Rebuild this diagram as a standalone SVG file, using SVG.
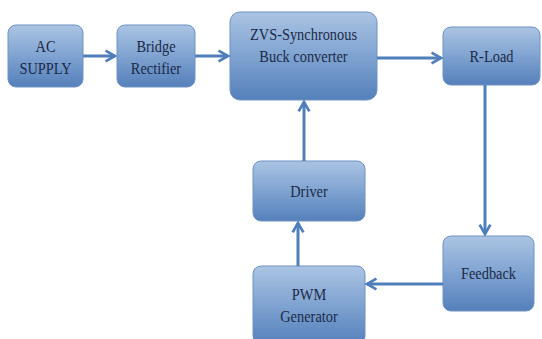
<svg xmlns="http://www.w3.org/2000/svg" width="542" height="339" viewBox="0 0 542 339">
<defs>
<linearGradient id="g" x1="0" y1="0" x2="0" y2="1">
<stop offset="0" stop-color="#abc4e3"/>
<stop offset="0.5" stop-color="#7fa3d1"/>
<stop offset="1" stop-color="#5580bb"/>
</linearGradient>
<marker id="ah" viewBox="0 0 10 10" refX="8" refY="5" markerWidth="4.5" markerHeight="4.5" orient="auto" markerUnits="strokeWidth">
<path d="M1,1 L8,5 L1,9" fill="none" stroke="#4f7fba" stroke-width="2"/>
</marker>
</defs>
<style>
.box{fill:url(#g);stroke:#6f93c4;stroke-width:1}
.t{font-family:"Liberation Serif","DejaVu Serif",serif;font-size:16px;fill:#1c2a48;text-anchor:middle}
.c{stroke:#4f7fba;stroke-width:3;fill:none;marker-end:url(#ah)}
</style>
<rect width="542" height="339" fill="#ffffff"/>
<g id="ac">
<rect class="box" x="8" y="25" width="75" height="62" rx="8"/>
<text class="t" x="45.5" y="52" transform="translate(45.5 52) scale(0.9 1.1) translate(-45.5 -52)">AC</text>
<text class="t" x="45.5" y="74" transform="translate(45.5 74) scale(0.9 1.1) translate(-45.5 -74)">SUPPLY</text>
</g>
<g id="bridge">
<rect class="box" x="117" y="25" width="78" height="62" rx="8"/>
<text class="t" x="156" y="52" transform="translate(156 52) scale(0.9 1.1) translate(-156 -52)">Bridge</text>
<text class="t" x="156" y="74" transform="translate(156 74) scale(0.9 1.1) translate(-156 -74)">Rectifier</text>
</g>
<g id="zvs">
<rect class="box" x="230" y="12" width="147" height="88" rx="10"/>
<text class="t" x="303.5" y="40" transform="translate(303.5 40) scale(0.9 1.1) translate(-303.5 -40)">ZVS-Synchronous</text>
<text class="t" x="303.5" y="62" transform="translate(303.5 62) scale(0.9 1.1) translate(-303.5 -62)">Buck converter</text>
</g>
<g id="rload">
<rect class="box" x="443" y="27" width="97" height="58" rx="8"/>
<text class="t" x="491.5" y="62" transform="translate(491.5 62) scale(0.9 1.1) translate(-491.5 -62)">R-Load</text>
</g>
<g id="driver">
<rect class="box" x="253" y="161" width="112" height="60" rx="8"/>
<text class="t" x="309" y="197" transform="translate(309 197) scale(0.9 1.1) translate(-309 -197)">Driver</text>
</g>
<g id="pwm">
<rect class="box" x="253" y="266" width="112" height="78" rx="8"/>
<text class="t" x="309" y="300" transform="translate(309 300) scale(0.9 1.1) translate(-309 -300)">PWM</text>
<text class="t" x="309" y="322" transform="translate(309 322) scale(0.9 1.1) translate(-309 -322)">Generator</text>
</g>
<g id="feedback">
<rect class="box" x="443" y="236" width="91" height="75" rx="8"/>
<text class="t" x="488.5" y="279" transform="translate(488.5 279) scale(0.9 1.1) translate(-488.5 -279)">Feedback</text>
</g>
<g id="connectors">
<line class="c" x1="83" y1="56" x2="115" y2="56"/>
<line class="c" x1="195" y1="56" x2="228" y2="56"/>
<line class="c" x1="377" y1="58" x2="441" y2="58"/>
<line class="c" x1="485" y1="85" x2="485" y2="234"/>
<line class="c" x1="443" y1="284" x2="367" y2="284"/>
<line class="c" x1="298" y1="266" x2="298" y2="223"/>
<line class="c" x1="304" y1="161" x2="304" y2="102"/>
</g>
</svg>
